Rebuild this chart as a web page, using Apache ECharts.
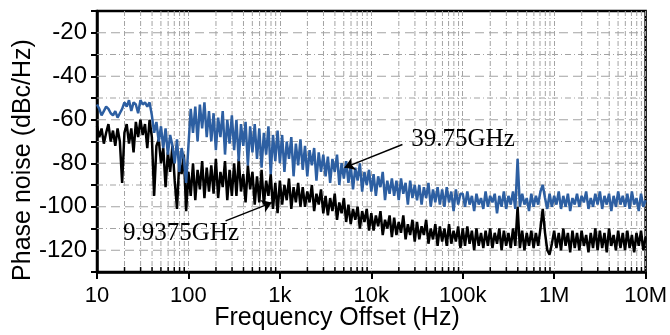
<!DOCTYPE html>
<html>
<head>
<meta charset="utf-8">
<script src="https://cdn.jsdelivr.net/npm/echarts@6/dist/echarts.min.js"></script>
<style>html,body{margin:0;padding:0;background:#fff}#c{width:670px;height:335px}</style>
</head>
<body>
<div id="c"></div>
<script>
// Sample grid: log10(frequency) from 1 (10 Hz) to 7 (10 MHz), step 0.025 decade
const logStart = 1, logStep = 0.025;
const xTickLabels = ['10','100','1k','10k','100k','1M','10M'];
const yMajorLevels = [-20,-40,-60,-80,-100,-120];
const yMinorLevels = [-30,-50,-70,-90,-110];
const minorMultipliers = [2,3,4,5,6,7,8,9];
const decades = [10,100,1e3,1e4,1e5,1e6];

// 39.75 GHz (blue)
const blueValues = [
-53,-55,-58,-56,-54,-55,-57,-58,-56,-59,
-57,-55,-52,-54,-51,-56,-52,-53,-57,-51,
-53,-52,-54,-52,-58,-66,-61,-70,-63,-73,
-64,-76,-67,-72,-80,-69,-84,-73,-78,-89,
-72,-55,-66,-54,-70,-53,-64,-52,-68,-56,
-70,-57,-74,-59,-68,-56,-76,-60,-71,-58,
-74,-60,-79,-62,-72,-61,-81,-63,-75,-62,
-78,-64,-82,-66,-76,-63,-85,-67,-79,-65,
-80,-67,-84,-70,-78,-68,-86,-71,-81,-69,
-83,-72,-86,-74,-81,-73,-88,-75,-84,-76,
-86,-77,-89,-78,-84,-76,-90,-80,-87,-79,
-89,-81,-92,-82,-88,-80,-93,-84,-90,-83,
-93,-85,-95,-86,-91,-84,-97,-88,-94,-87,
-95,-88,-97,-87,-94,-89,-99,-88,-96,-90,
-97,-90,-99,-91,-96,-89,-100,-92,-98,-91,
-99,-92,-100,-91,-98,-93,-102,-92,-99,-94,
-94,-100,-93,-99,-95,-102,-94,-99,-96,-101,
-93,-100,-95,-98,-94,-103,-95,-100,-93,-101,
-95,-99,-93,-101,-78,-100,-94,-99,-96,-102,
-94,-100,-95,-99,-93,-90,-96,-101,-94,-100,
-95,-99,-93,-101,-95,-100,-94,-102,-96,-99,
-94,-100,-95,-98,-93,-101,-96,-100,-94,-99,
-93,-101,-95,-99,-94,-102,-95,-100,-93,-99,
-95,-100,-94,-101,-93,-99,-96,-102,-94,-100,
-97];

// 9.9375 GHz (black)
const blackValues = [
-63,-68,-64,-71,-66,-62,-70,-65,-72,-64,
-70,-89,-66,-62,-71,-64,-75,-61,-68,-60,
-67,-62,-73,-60,-68,-95,-72,-69,-80,-73,
-91,-75,-84,-72,-88,-101,-79,-85,-76,-102,
-84,-95,-80,-97,-83,-92,-79,-96,-82,-93,
-81,-94,-78,-96,-84,-91,-79,-97,-83,-95,
-80,-95,-78,-93,-85,-98,-81,-92,-84,-99,
-86,-98,-83,-99,-88,-95,-85,-101,-89,-103,
-88,-99,-90,-97,-87,-101,-91,-98,-89,-100,
-91,-100,-93,-98,-90,-102,-94,-99,-92,-103,
-95,-104,-96,-102,-94,-106,-98,-103,-96,-107,
-99,-108,-101,-106,-100,-110,-102,-107,-101,-111,
-103,-111,-104,-109,-102,-113,-106,-110,-104,-114,
-105,-113,-107,-112,-104,-115,-108,-113,-106,-116,
-107,-115,-109,-113,-106,-117,-110,-115,-108,-118,
-109,-116,-110,-118,-108,-117,-111,-116,-109,-119,
-110,-118,-109,-117,-111,-120,-110,-118,-112,-119,
-111,-118,-110,-119,-112,-117,-110,-120,-111,-118,
-112,-119,-110,-118,-100,-119,-111,-120,-112,-118,
-111,-119,-112,-118,-110,-101,-112,-120,-122,-117,
-111,-119,-112,-120,-110,-118,-112,-121,-111,-119,
-112,-120,-111,-118,-113,-121,-112,-119,-110,-120,
-111,-119,-112,-121,-110,-118,-113,-120,-111,-119,
-112,-120,-111,-119,-113,-121,-112,-118,-111,-120,
-114];

// Annotation arrows (data coordinates: [tail], [head])
const blueArrow = [[21900,-71.4],[5100,-82]];
const blackArrow = [[255,-106.5],[817,-98.1]];

const X_MIN = 10, X_MAX = 1e7, Y_MIN = -130, Y_MAX = -10;
const freqOf = i => Math.pow(10, logStart + i * logStep);
const blueData = blueValues.map((v,i) => [freqOf(i), v]);
const blackData = blackValues.map((v,i) => [freqOf(i), v]);
const minorFreqs = [];
decades.forEach(d => minorMultipliers.forEach(m => minorFreqs.push([d*m, Y_MIN])));

const GRID_COLOR = '#a3a3a3';

const chart = echarts.init(document.getElementById('c'), null, {renderer:'canvas'});
chart.setOption({
  animation: false,
  backgroundColor: '#fff',
  grid: {left: 97, right: 20, top: 11, bottom: 63, show: true, borderColor: '#000', borderWidth: 2.5, backgroundColor: 'transparent'},
  xAxis: {
    type: 'log', logBase: 10, min: X_MIN, max: X_MAX, splitNumber: 6,
    axisLine: {show: true, onZero: false, lineStyle: {color: '#000', width: 2.5}},
    axisTick: {show: true, length: 7, lineStyle: {color: '#000', width: 2}},
    axisLabel: {color: '#000', fontFamily: 'Liberation Sans', fontSize: 22, margin: 13,
      formatter: v => { const k = Math.round(Math.log10(v)) - 1; return xTickLabels[k] || ''; }},
    splitLine: {show: true, lineStyle: {color: GRID_COLOR, width: 1, type: [5,2,1,2]}}
  },
  yAxis: {
    type: 'value', min: Y_MIN, max: Y_MAX, interval: 10,
    axisLine: {show: true, onZero: false, lineStyle: {color: '#000', width: 2.5}},
    axisTick: {show: true, length: 6, lineStyle: {color: '#000', width: 2}},
    axisLabel: {color: '#000', fontFamily: 'Liberation Sans', fontSize: 24, margin: 10,
      formatter: v => (v % 20 === 0 ? String(v) : '')},
    splitLine: {show: false}
  },
  series: [
    { // minor vertical grid lines + inward minor ticks
      type: 'custom', silent: true, z: 1, clip: false,
      data: minorFreqs,
      renderItem: (params, api) => {
        const f = api.value(0);
        const top = api.coord([f, Y_MAX]), bot = api.coord([f, Y_MIN]);
        return {type: 'group', children: [
          {type: 'line', shape: {x1: top[0], y1: top[1], x2: bot[0], y2: bot[1]}, style: {stroke: GRID_COLOR, lineWidth: 1, lineDash: [5,2,1,2]}},
          {type: 'line', shape: {x1: bot[0], y1: bot[1], x2: bot[0], y2: bot[1] - 5}, style: {stroke: '#000', lineWidth: 1.5}}
        ]};
      }
    },
    { // major horizontal grid (dashed)
      type: 'custom', silent: true, z: 1,
      data: yMajorLevels.map(l => [X_MIN, l]),
      renderItem: (params, api) => {
        const l = api.value(1);
        const a = api.coord([X_MIN, l]), b = api.coord([X_MAX, l]);
        return {type: 'line', shape: {x1: a[0], y1: a[1], x2: b[0], y2: b[1]}, style: {stroke: GRID_COLOR, lineWidth: 1, lineDash: [9,5]}};
      }
    },
    { // minor horizontal grid (dash-dot)
      type: 'custom', silent: true, z: 1,
      data: yMinorLevels.map(l => [X_MIN, l]),
      renderItem: (params, api) => {
        const l = api.value(1);
        const a = api.coord([X_MIN, l]), b = api.coord([X_MAX, l]);
        return {type: 'line', shape: {x1: a[0], y1: a[1], x2: b[0], y2: b[1]}, style: {stroke: GRID_COLOR, lineWidth: 1, lineDash: [6,3,1,3]}};
      }
    },
    {
      name: '9.9375GHz', type: 'line', data: blackData, showSymbol: false, symbol: 'none', z: 3,
      lineStyle: {color: '#000', width: 2.5}, sampling: null,
      markLine: {silent: true, symbol: ['none','arrow'], symbolSize: 10, label: {show: false},
        lineStyle: {color: '#000', width: 1.5, type: 'solid'},
        data: [[{coord: blackArrow[0]}, {coord: blackArrow[1]}]]}
    },
    {
      name: '39.75GHz', type: 'line', data: blueData, showSymbol: false, symbol: 'none', z: 4,
      lineStyle: {color: '#2d5fa2', width: 2.5}, sampling: null,
      markLine: {silent: true, symbol: ['none','arrow'], symbolSize: 10, label: {show: false},
        lineStyle: {color: '#000', width: 1.5, type: 'solid'},
        data: [[{coord: blueArrow[0]}, {coord: blueArrow[1]}]]}
    }
  ],
  graphic: [
    {type: 'text', x: 23, y: 160, rotation: Math.PI/2, style: {text: 'Phase noise (dBc/Hz)', font: '25px "Liberation Sans"', fill: '#000', align: 'center', verticalAlign: 'middle'}},
    {type: 'text', x: 337, y: 318, style: {text: 'Frequency Offset (Hz)', font: '25px "Liberation Sans"', fill: '#000', align: 'center', verticalAlign: 'middle'}},
    {type: 'text', x: 463, y: 139, z: 10, style: {text: '39.75GHz', font: '25px "Liberation Serif"', fill: '#000', align: 'center', verticalAlign: 'middle'}},
    {type: 'text', x: 181, y: 233, z: 10, style: {text: '9.9375GHz', font: '25px "Liberation Serif"', fill: '#000', align: 'center', verticalAlign: 'middle'}}
  ]
});
</script>
</body>
</html>
